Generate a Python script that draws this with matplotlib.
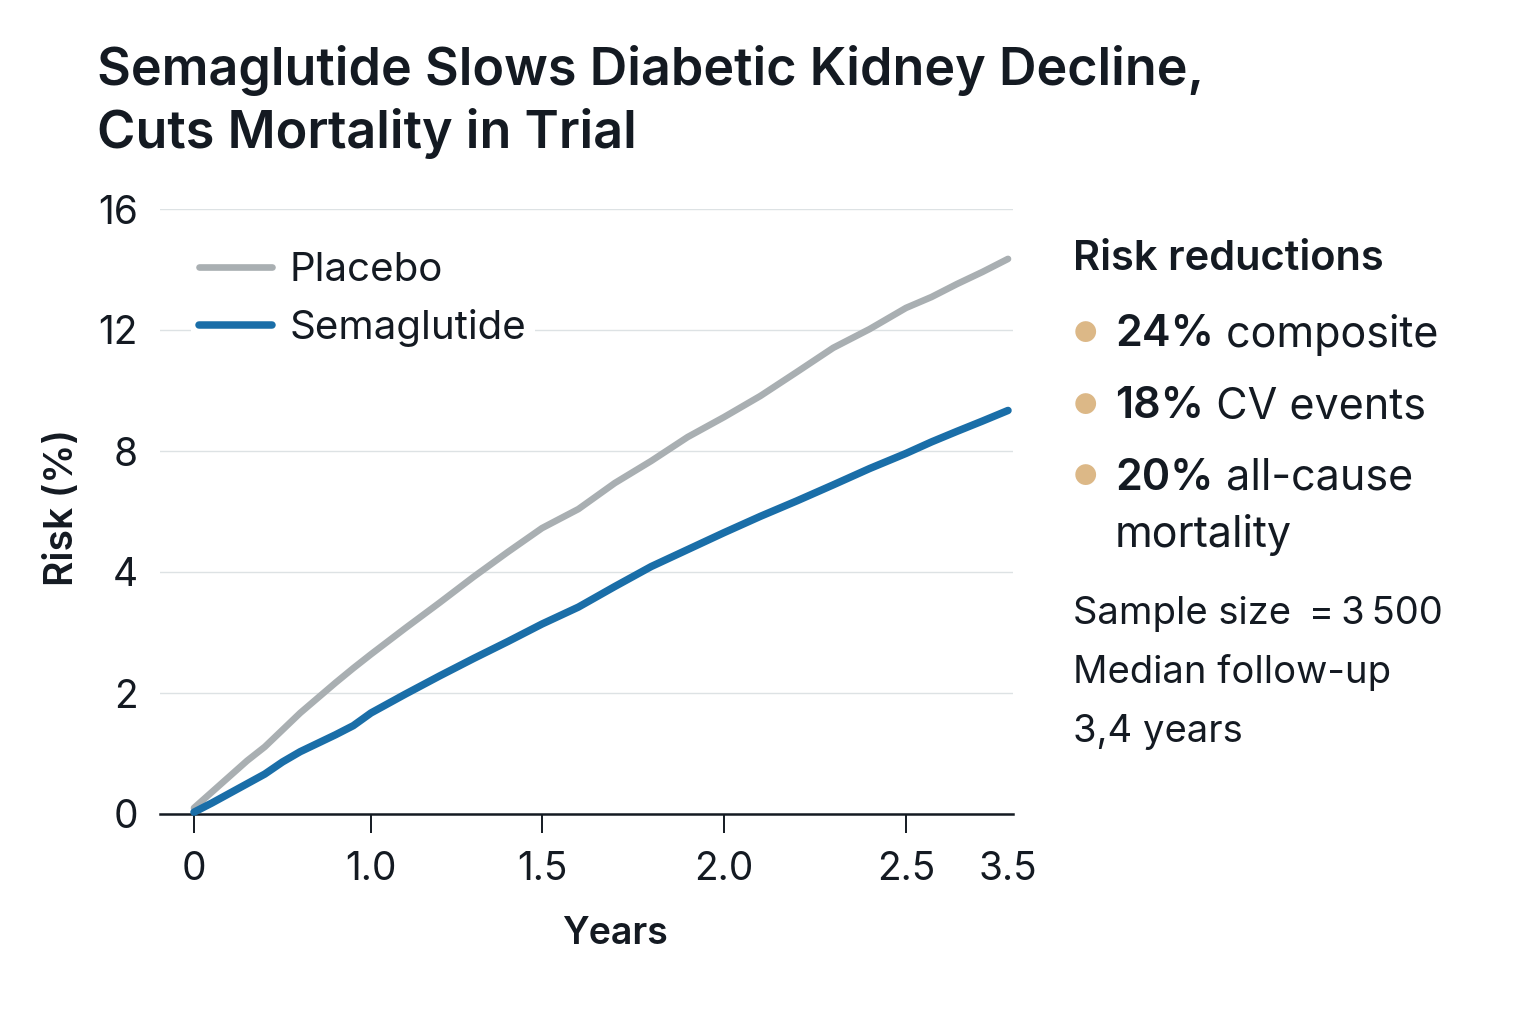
import numpy as np
import matplotlib
matplotlib.use('Agg')
import matplotlib.pyplot as plt
from matplotlib.lines import Line2D

# データ
years = [0, 0.1, 0.2, 0.3, 0.4, 0.5, 0.6, 0.7, 0.8, 0.9, 1.0,
         1.1, 1.2, 1.3, 1.4, 1.5, 1.6, 1.7, 1.8, 1.9, 2.0,
         2.1, 2.2, 2.3, 2.4, 2.5, 2.75, 3.0, 3.25, 3.5]
placebo = [0.10, 0.36, 0.62, 0.88, 1.11, 1.39, 1.67, 1.92, 2.17, 2.41, 2.64,
           3.07, 3.49, 3.92, 4.66, 5.45, 6.08, 6.94, 7.67, 8.46, 9.12,
           9.82, 10.61, 11.41, 12.03, 12.73, 13.09, 13.52, 13.92, 14.35]
semaglutide = [0.03, 0.18, 0.34, 0.50, 0.66, 0.86, 1.03, 1.17, 1.31, 1.46, 1.67,
               1.98, 2.28, 2.57, 2.85, 3.14, 3.42, 3.76, 4.18, 4.74, 5.30,
               5.84, 6.35, 6.88, 7.42, 7.92, 8.30, 8.65, 8.99, 9.34]

x_ticks = [0, 1.0, 1.5, 2.0, 2.5]
x_ticklabels = ['0', '1.0', '1.5', '2.0', '2.5']
y_ticks = [0, 2, 4, 8, 12, 16]
y_ticklabels = ['0', '2', '4', '8', '12', '16']

title = 'Semaglutide Slows Diabetic Kidney Decline,\nCuts Mortality in Trial'
bullets = [('24%', ' composite'), ('18%', ' CV events'), ('20%', ' all-cause')]

FONT = ['Inter', 'DejaVu Sans']
plt.rcParams['font.family'] = FONT
INK = '#141a22'
GREY = '#a9afb2'
BLUE = '#1a6ea8'

# 不等間隔の目盛りに合わせた区分線形スケール
xb_v = [-1, 0, 1.0, 1.5, 2.0, 2.5, 3.5, 4.5]
xb_p = [-177, 0, 177, 348, 530, 712, 814, 916]
yb_v = [-2, 0, 2, 4, 8, 12, 16, 20]
yb_p = [-1, 0, 1, 2, 3, 4, 5, 6]

def xf(v): return np.interp(v, xb_v, xb_p)
def xi(p): return np.interp(p, xb_p, xb_v)
def yf(v): return np.interp(v, yb_v, yb_p)
def yi(p): return np.interp(p, yb_p, yb_v)

fig = plt.figure(figsize=(15.36, 10.24), dpi=100)
fig.patch.set_facecolor('white')
ax = fig.add_axes([160/1536, 1-814/1024, (1013-160)/1536, (814-209)/1024])
ax.set_xscale('function', functions=(xf, xi))
ax.set_yscale('function', functions=(yf, yi))

ax.plot(years, placebo, color=GREY, lw=4.8, solid_capstyle='round',
        clip_on=False, zorder=3)
ax.plot(years, semaglutide, color=BLUE, lw=5.4, solid_capstyle='round',
        clip_on=False, zorder=4)

ax.set_xlim(-0.192, 3.549)
ax.set_ylim(0, 16)

ax.set_yticks(y_ticks)
ax.set_yticklabels(y_ticklabels)
ax.set_xticks(x_ticks)
ax.set_xticklabels(x_ticklabels)
ax.set_xticks([3.5], minor=True)
ax.set_xticklabels(['3.5'], minor=True)
ax.tick_params(axis='x', which='major', length=14, width=1.4, color=INK,
               labelsize=28, labelcolor=INK, pad=13)
ax.tick_params(axis='x', which='minor', length=0, labelsize=28,
               labelcolor=INK, pad=27)
ax.tick_params(axis='y', length=0, labelsize=28, labelcolor=INK, pad=16)

for s in ['top', 'right', 'left']:
    ax.spines[s].set_visible(False)
ax.spines['bottom'].set_linewidth(1.8)
ax.spines['bottom'].set_color(INK)
ax.grid(axis='y', color='#dde2e4', lw=1.0)
ax.grid(axis='x', visible=False)
ax.set_axisbelow(True)

ax.set_xlabel('Years', fontsize=27, fontweight='semibold', color=INK)
ax.xaxis.set_label_coords((615-160)/(1013-160), -(934-814)/(814-209))
ax.xaxis.label.set_va('center')
ax.set_ylabel('Risk (%)', fontsize=28, fontweight='semibold', color=INK)
ax.yaxis.set_label_coords(-(160-62)/(1013-160), (814-508)/(814-209))
ax.yaxis.label.set_va('center')

# 凡例
handles = [Line2D([0], [0], color=GREY, lw=4.8, solid_capstyle='round'),
           Line2D([0], [0], color=BLUE, lw=5.4, solid_capstyle='round')]
leg = ax.legend(handles, ['Placebo', 'Semaglutide'], loc='upper left',
                bbox_to_anchor=(0.013, 0.975), frameon=True, facecolor='white',
                edgecolor='none', framealpha=1, fontsize=29, handlelength=1.8,
                handletextpad=0.45, labelspacing=0.5, borderpad=0.2)
for t in leg.get_texts():
    t.set_color(INK)

fig.text(97/1536, 1-45/1024, title, fontsize=37.5, fontweight='semibold',
         color=INK, va='top', ha='left', linespacing=1.3)

# 右側の注記
def fx(px): return px/1536
def fy(py): return 1-py/1024

fig.text(fx(1073), fy(259), 'Risk reductions', fontsize=30, fontweight='semibold',
         color=INK, va='center', ha='left')

renderer = fig.canvas.get_renderer()
for i, (pct, rest) in enumerate(bullets):
    yy = [335, 407, 478][i]
    fig.text(fx(1085), fy(yy), '\u25CF', fontsize=20, color='#dcb887',
             va='center', ha='center')
    t = fig.text(fx(1115), fy(yy), pct, fontsize=31, fontweight='semibold',
                 color=INK, va='center', ha='left')
    bb = t.get_window_extent(renderer)
    fig.text(bb.x1/1536, fy(yy), rest, fontsize=31, color=INK,
             va='center', ha='left')
fig.text(fx(1115), fy(535), 'mortality', fontsize=31, color=INK,
         va='center', ha='left')

for txt, yy in [('Sample size \u2009=\u20093\u2009500', 614), ('Median follow-up', 673),
                ('3,4 years', 732)]:
    fig.text(fx(1073), fy(yy), txt, fontsize=27.5, color=INK, va='center', ha='left')

fig.savefig('out.png', dpi=100, facecolor='white')
